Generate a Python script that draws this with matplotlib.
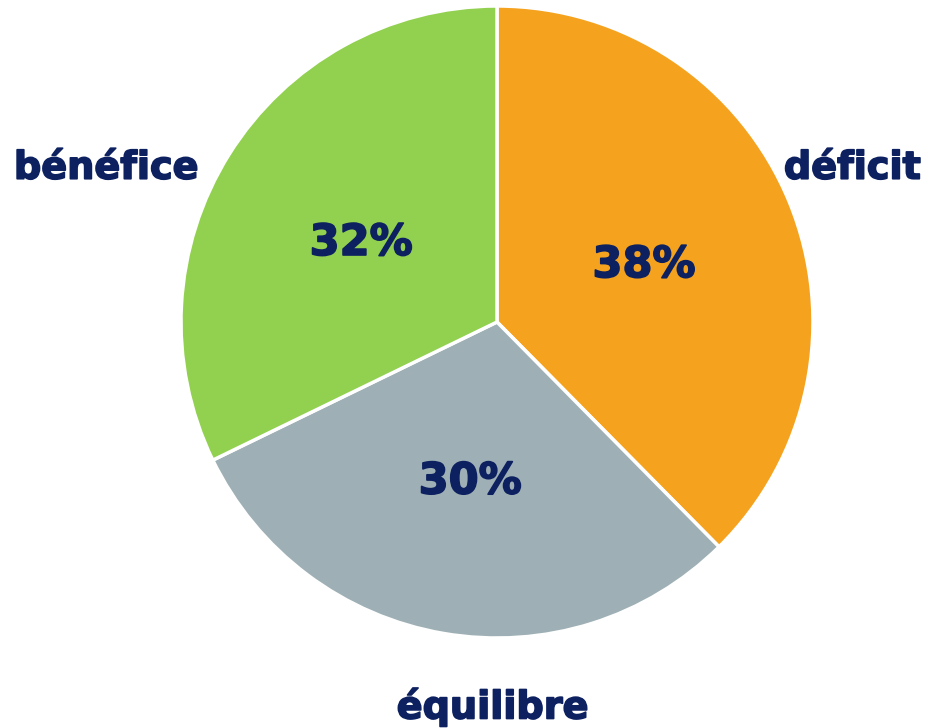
import matplotlib.pyplot as plt
import matplotlib.patheffects as pe

labels = ['déficit', 'équilibre', 'bénéfice']
values = [37.6, 30.2, 32.2]
colors = ['#F5A31F', '#9EB0B5', '#92D050']
label_pos = [(1.125, 0.485), (-0.013, -1.22), (-1.236, 0.485)]
pct_pos = [(0.465, 0.18), (-0.085, -0.505), (-0.43, 0.25)]

navy = '#0D2160'
plt.rcParams['font.family'] = ['DejaVu Sans']
heavy = [pe.withStroke(linewidth=1.2, foreground=navy)]

fig = plt.figure(figsize=(9.3, 7.28), dpi=100)
ax = fig.add_axes([0, 0, 1, 1])
ax.pie(values, colors=colors, startangle=90, counterclock=False,
       radius=1.0, wedgeprops=dict(edgecolor='white', linewidth=2.5))

for lab, (x, y) in zip(labels, label_pos):
    ax.text(x, y, lab, ha='center', va='center', fontsize=27.5,
            fontweight='bold', color=navy, path_effects=heavy)
for v, (x, y) in zip(values, pct_pos):
    ax.text(x, y, '%.0f%%' % v, ha='center', va='center', fontsize=31,
            fontweight='bold', color=navy, path_effects=heavy)

# pie center at pixel (497, 322), radius 316 px
ax.set_xlim(-497 / 316, (930 - 497) / 316)
ax.set_ylim(-(728 - 322) / 316, 322 / 316)
ax.set_aspect('auto')
ax.axis('off')

fig.savefig('out.png', dpi=100)
